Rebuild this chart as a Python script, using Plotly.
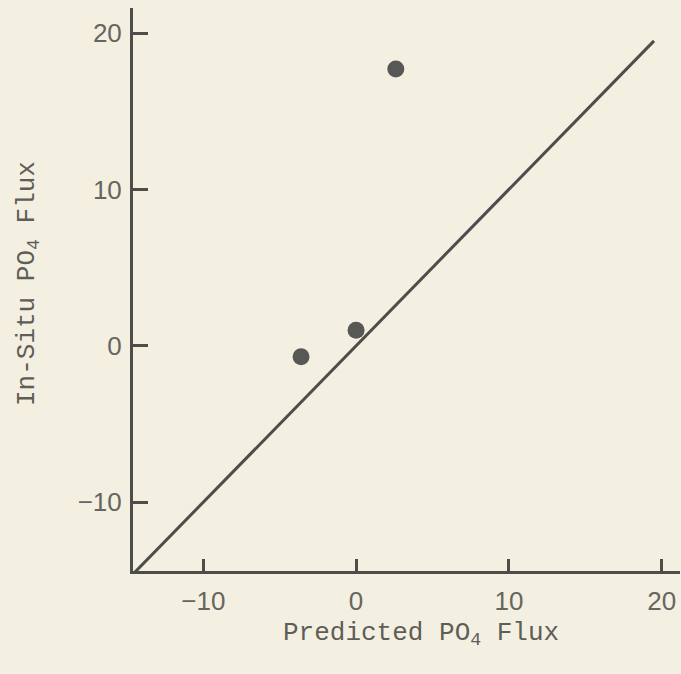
import plotly.graph_objects as go

# Observed vs. predicted phosphate flux
predicted_flux = [2.6, 0.0, -3.6]
in_situ_flux = [17.7, 1.0, -0.7]

# 1:1 reference line end points
line_ends = [-14.55, 19.5]

tick_vals = [-10, 0, 10, 20]

ink = "#4d4d4b"
label_ink = "#66655e"
paper = "#f4f0e1"
mono = "Liberation Mono, Courier New, monospace"
sans = "Liberation Sans, Arial, sans-serif"

fig = go.Figure()

fig.add_trace(go.Scatter(
    x=line_ends, y=line_ends, mode="lines",
    line=dict(color=ink, width=3), showlegend=False, hoverinfo="skip",
))

fig.add_trace(go.Scatter(
    x=predicted_flux, y=in_situ_flux, mode="markers",
    marker=dict(color="#575755", size=17, line=dict(width=0)),
    showlegend=False,
))

axis_common = dict(
    showgrid=False, zeroline=False, showline=True,
    linecolor=ink, linewidth=3,
    ticks="inside", tickcolor=ink, tickwidth=3,
    tickvals=tick_vals,
    tickfont=dict(family=sans, size=26, color=label_ink),
)

fig.update_layout(
    width=681, height=674,
    margin=dict(l=133, r=1, t=8, b=103),
    paper_bgcolor=paper, plot_bgcolor=paper,
    xaxis=dict(range=[-14.6, 21.2], ticklen=12, ticklabelstandoff=5,
               **axis_common),
    yaxis=dict(range=[-14.4, 21.6], ticklen=15, ticklabelstandoff=3,
               **axis_common),
    annotations=[
        dict(text="Predicted PO<sub>4</sub> Flux", xref="paper", yref="paper",
             x=(421 - 133) / 547, y=-(634 - 571) / 563, showarrow=False,
             xanchor="center", yanchor="middle",
             font=dict(family=mono, size=26, color="#5e5d57")),
        dict(text="In-Situ PO<sub>4</sub> Flux", xref="paper", yref="paper",
             x=(28 - 133) / 547, y=(571 - 284) / 563, showarrow=False,
             xanchor="center", yanchor="middle", textangle=-90,
             font=dict(family=mono, size=26, color="#5e5d57")),
    ],
)

fig.write_html("out.html")
